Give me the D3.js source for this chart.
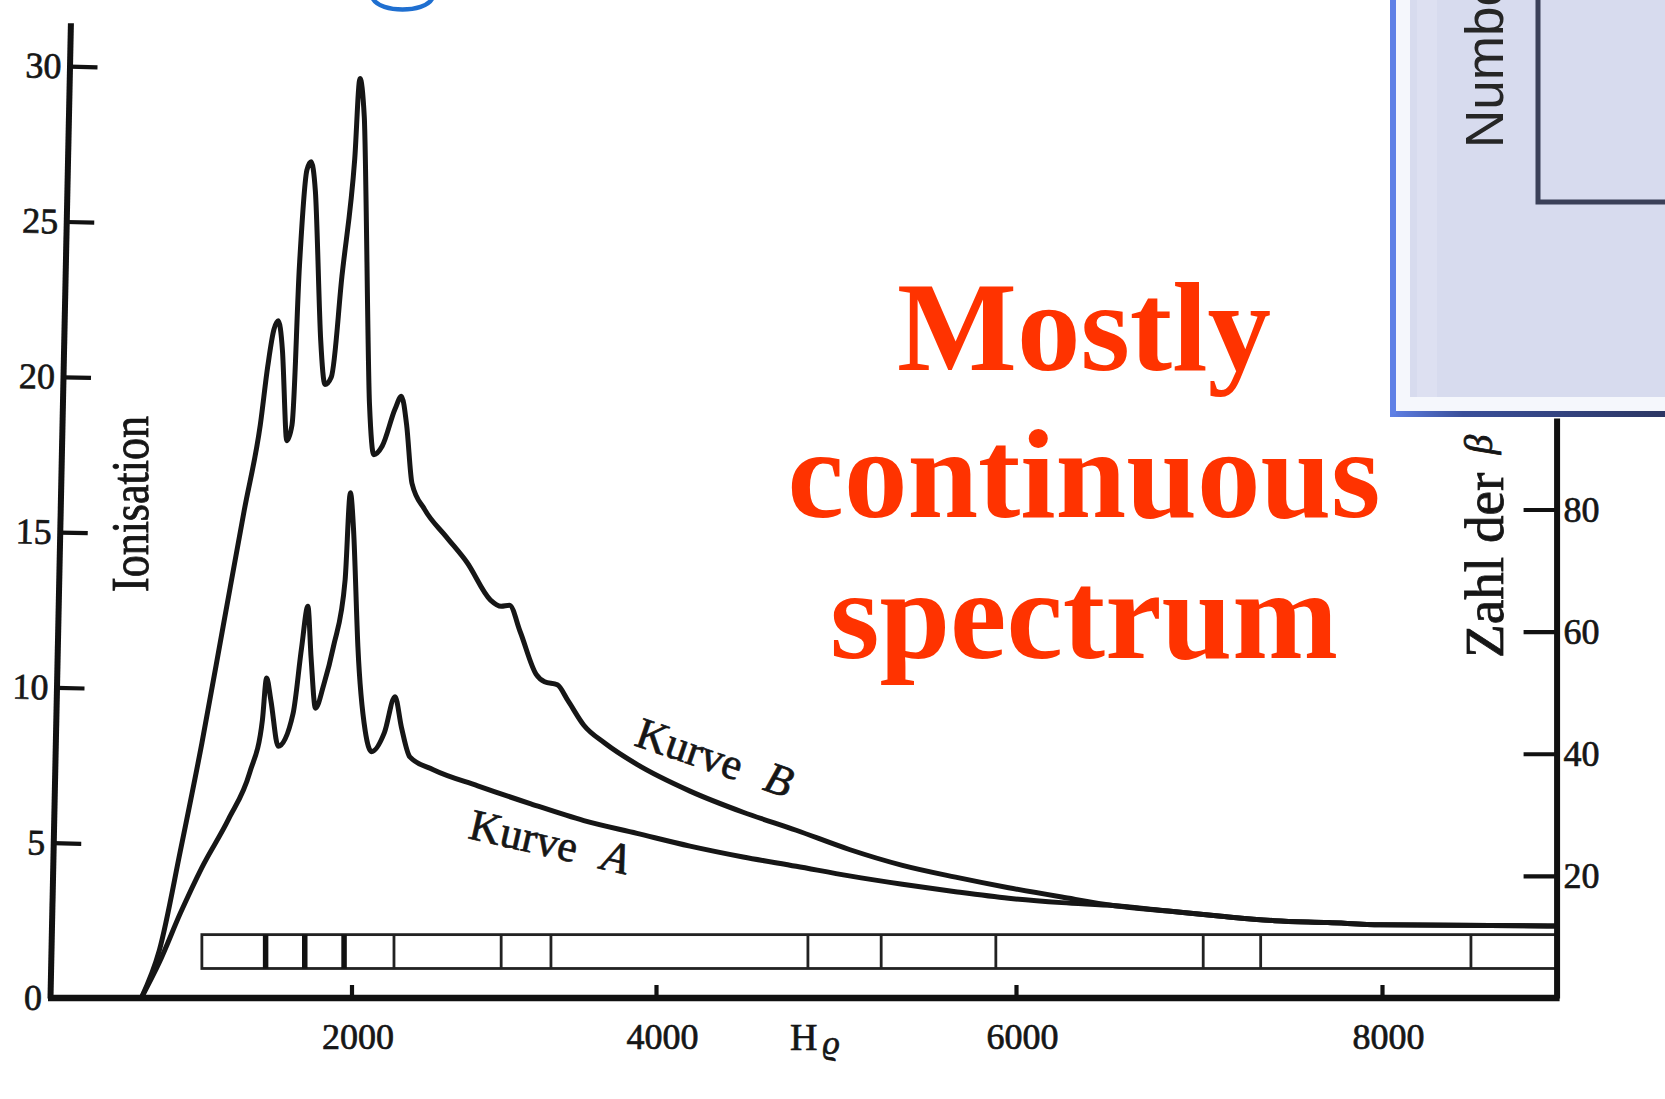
<!DOCTYPE html>
<html><head><meta charset="utf-8">
<script src="https://cdn.jsdelivr.net/npm/d3@7"></script>
<style>
html,body{margin:0;padding:0;background:#fff;overflow:hidden}
svg{display:block}
</style></head><body>
<svg id="chart" width="1665" height="1099"></svg>
<script>
// ---- data ----
const xTickValues = [2000, 4000, 6000, 8000];
const yTickValues = [0, 5, 10, 15, 20, 25, 30];
const rightTickValues = [20, 40, 60, 80];

const kurveB_H = [615,734,874,1014,1154,1294,1399,1448,1489,1517,1545,1573,1608,1657,1706,1734,1762,1797,1825,1867,1937,2021,2056,2084,2118,2146,2202,2286,2328,2362,2397,2481,2620,2760,2913,2983,3038,3108,3213,3268,3352,3422,3526,3665,3875,4189,4484,4779,5074,5369,5664,5959,6250,6541,6831,7122,7413,7704,7994,8954];
const kurveB_I = [0,1.54,4.78,8.20,11.96,15.72,18.45,20.33,21.52,21.80,20.84,17.94,18.45,23.57,26.65,26.92,25.97,21.18,19.75,19.99,23.23,26.99,29.6,28.36,19.13,17.49,17.77,18.96,19.37,18.45,16.57,15.72,14.86,14.01,12.81,12.61,12.64,11.79,10.42,10.18,10.08,9.57,8.78,8.20,7.52,6.66,5.98,5.40,4.78,4.27,3.89,3.55,3.25,2.97,2.80,2.63,2.49,2.43,2.36,2.32];

const kurveA_H = [615,734,874,1014,1189,1329,1413,1441,1469,1517,1615,1671,1713,1734,1762,1818,1881,1958,1993,2014,2042,2090,2132,2216,2286,2328,2383,2537,2829,3178,3526,3875,4189,4484,4779,5074,5369,5664,5959,6250,6541,6831,7122,7413,7704,7994,8954];
const kurveA_I = [0,1.15,2.75,4.20,5.75,7.25,8.95,10.3,9.57,8.10,9.16,11.27,12.61,10.93,9.33,10.1,11.31,13.46,16.26,15.03,11.31,8.6,7.93,8.54,9.70,8.71,7.76,7.35,6.83,6.25,5.71,5.30,4.89,4.54,4.24,3.93,3.66,3.42,3.21,3.07,2.97,2.80,2.63,2.49,2.43,2.36,2.32];

const stripStart = 1014;
const stripLines = [2279, 2983, 3310, 4844, 5251, 5888, 7023, 7337, 8486];
const strongLines = [1434, 1692, 1951];
const axisEndH = 8954;

// ---- scales ----
const svg = d3.select('#chart');
const x = d3.scaleLinear().domain([0,2000,4000,6000,8000,9000]).range([48,351.5,656,1016,1382,1565]);
const y = d3.scaleLinear().domain([0,30]).range([998,66]);
const yR = d3.scaleLinear().domain([0,80]).range([998,509.5]);
const xr = x(axisEndH);
const serif = "'Liberation Serif','DejaVu Serif',serif";
const ink = '#161616';

// blue fragment of a title letter above the chart
svg.append('path').attr('d','M373,-1 C381,13 424,13 432,-1')
  .attr('fill','none').attr('stroke','#1f6fd0').attr('stroke-width',4.5).attr('stroke-linecap','round');

// ---- strip of lines ----
const sTop = y(2.04), sBot = y(0.95);
svg.append('rect').attr('x',x(stripStart)).attr('y',sTop)
  .attr('width',xr - x(stripStart)).attr('height',sBot - sTop)
  .attr('fill','none').attr('stroke','#222').attr('stroke-width',2.8);
svg.append('g').selectAll('line').data(stripLines).join('line')
  .attr('x1',d=>x(d)).attr('x2',d=>x(d)).attr('y1',sTop).attr('y2',sBot)
  .attr('stroke','#222').attr('stroke-width',2.8);
svg.append('g').selectAll('line').data(strongLines).join('line')
  .attr('x1',d=>x(d)).attr('x2',d=>x(d)).attr('y1',sTop).attr('y2',sBot)
  .attr('stroke','#111').attr('stroke-width',5.5);

// ---- curves ----
const line = d3.line().x(d=>x(d[0])).y(d=>y(d[1])).curve(d3.curveMonotoneX);
const dataB = kurveB_H.map((h,i)=>[h,kurveB_I[i]]);
const dataA = kurveA_H.map((h,i)=>[h,kurveA_I[i]]);
[dataA, dataB].forEach(d=>{
  svg.append('path').datum(d).attr('d',line).attr('fill','none')
    .attr('stroke',ink).attr('stroke-width',5)
    .attr('stroke-linejoin','round').attr('stroke-linecap','round');
});

// ---- axes ----
function styleText(sel, fs){
  sel.attr('fill',ink).attr('stroke',ink).attr('stroke-width',0.7)
    .style('font-family',serif).style('font-size',fs+'px');
}
function styleAxis(g, fs){
  g.select('.domain').attr('stroke','#111').attr('stroke-width',6);
  g.selectAll('.tick line').attr('stroke','#111').attr('stroke-width',4.2);
  styleText(g.selectAll('.tick text'), fs);
}
// left axis (slightly slanted as in the scan)
const yAxisScale = y.copy().domain([0,31.4]).range([y(0), y(31.4)]);
const gL = svg.append('g').attr('transform',`translate(${x(0)+2},0) rotate(1.2,0,${y(0)})`)
  .call(d3.axisLeft(yAxisScale).tickValues(yTickValues).tickSize(-28).tickSizeOuter(0).tickPadding(8).tickFormat(d3.format('d')));
styleAxis(gL, 36);
gL.selectAll('.tick').filter(d=>d===0).select('line').remove();

// bottom axis
const gB = svg.append('g').attr('transform',`translate(0,${y(0)})`)
  .call(d3.axisBottom(x).tickValues(xTickValues).tickSize(-13).tickSizeOuter(0).tickPadding(25).tickFormat(d3.format('d')));
styleAxis(gB, 36);
gB.selectAll('.tick text').attr('dx',6);
gB.select('.domain').remove();
svg.append('line').attr('x1',x(0)).attr('x2',xr+3).attr('y1',y(0)).attr('y2',y(0))
  .attr('stroke','#111').attr('stroke-width',6.5);

// right axis
const yRAxisScale = yR.copy().domain([0,95]).range([yR(0), yR(95)]);
const gR = svg.append('g').attr('transform',`translate(${xr},0)`)
  .call(d3.axisRight(yRAxisScale).tickValues(rightTickValues).tickSize(-33).tickSizeOuter(0).tickPadding(7).tickFormat(d3.format('d')));
styleAxis(gR, 36);

// axis titles
styleText(svg.append('text').attr('transform','translate(148,592) rotate(-90) scale(1,1.2)').text('Ionisation'), 44);
const zt = svg.append('text').attr('transform','translate(1503,658) rotate(-90) scale(1.15,1.15)');
styleText(zt, 48);
zt.append('tspan').text('Zahl der ');
zt.append('tspan').attr('dx',4).attr('dy',-10).style('font-style','italic').style('font-size','34px').text('β');
const ht = svg.append('text').attr('x',790).attr('y',1050);
styleText(ht, 38);
ht.append('tspan').text('H');
ht.append('tspan').attr('dx',5).attr('dy',4).style('font-style','italic').style('font-size','34px').text('ϱ');

// curve labels
const kb = svg.append('text').attr('transform','translate(633,745) rotate(19)');
styleText(kb, 44);
kb.append('tspan').text('Kurve');
kb.append('tspan').attr('dx',26).style('font-style','italic').text('B');
const ka = svg.append('text').attr('transform','translate(467,838) rotate(13)');
styleText(ka, 44);
ka.append('tspan').text('Kurve');
ka.append('tspan').attr('dx',26).style('font-style','italic').text('A');

// red annotation
const red = ['Mostly','continuous','spectrum'];
const redY = [370, 517, 658];
svg.append('g').selectAll('text').data(red).join('text')
  .attr('x',1084).attr('y',(d,i)=>redY[i]).attr('text-anchor','middle')
  .style('font-family',serif).style('font-weight','bold').style('font-size','127px')
  .attr('fill','#ff3300').text(d=>d);

// inset panel (cropped) at top right
const defs = svg.append('defs');
const lg = defs.append('linearGradient').attr('id','bord').attr('x1',0).attr('x2',1).attr('y1',0).attr('y2',0);
lg.append('stop').attr('offset',0).attr('stop-color','#5f80e6');
lg.append('stop').attr('offset',0.25).attr('stop-color','#3a4f9a');
lg.append('stop').attr('offset',1).attr('stop-color','#2b3560');
const inset = svg.append('g');
inset.append('rect').attr('x',1390).attr('y',-10).attr('width',290).attr('height',427).attr('fill','url(#bord)');
inset.append('rect').attr('x',1390).attr('y',-10).attr('width',6).attr('height',424).attr('fill','#5f80e6');
inset.append('rect').attr('x',1396).attr('y',-10).attr('width',290).attr('height',421).attr('fill','#f5f7fc');
inset.append('rect').attr('x',1410).attr('y',-10).attr('width',280).attr('height',407).attr('fill','#d7dbee');
inset.append('rect').attr('x',1417).attr('y',-10).attr('width',20).attr('height',407).attr('fill','#dde0f1');
inset.append('path').attr('d','M1538,-5V202H1690').attr('fill','none').attr('stroke','#3b4058').attr('stroke-width',5);
inset.append('text').attr('transform','translate(1503,148) rotate(-90)')
  .style('font-family',"'Liberation Sans',Arial,sans-serif").style('font-size','53px')
  .attr('fill','#262626').text('Number');
</script>
</body></html>
